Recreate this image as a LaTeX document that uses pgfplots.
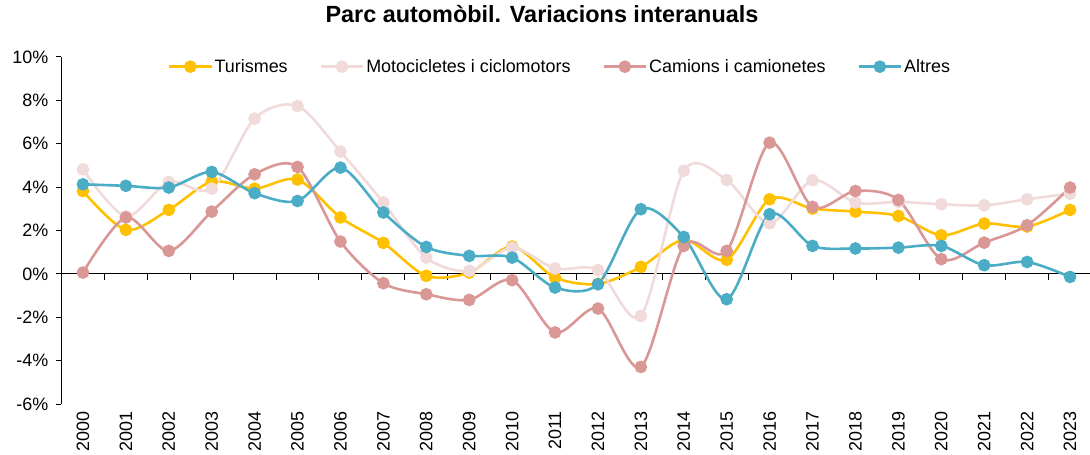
\documentclass[border=0pt]{standalone}
\usepackage{fontspec}
\setmainfont{Liberation Sans}
\usepackage{pgfplots}
\pgfplotsset{compat=1.18}
\definecolor{tur}{HTML}{FFC000}
\definecolor{moto}{HTML}{F0DADA}
\definecolor{cam}{HTML}{D99795}
\definecolor{alt}{HTML}{4BACC6}
\begin{document}
\begin{tikzpicture}[font=\fontsize{18}{21}\selectfont]
\useasboundingbox (-61.5bp,-51bp) rectangle (1028.5bp,404bp);
\begin{axis}[
  scale only axis, width=1030bp, height=347bp,
  xmin=-0.5, xmax=23.5, ymin=-6, ymax=10,
  clip=false,
  axis y line*=left, axis x line*=bottom,
  x axis line style={draw=none},
  y axis line style={line width=1bp, -},
  xtick={0,1,...,23},
  xticklabels={2000,2001,2002,2003,2004,2005,2006,2007,2008,2009,2010,2011,2012,2013,2014,2015,2016,2017,2018,2019,2020,2021,2022,2023},
  x tick label style={rotate=90, anchor=east, inner sep=2bp},
  xtick style={draw=none},
  ytick={-6,-4,...,10},
  yticklabels={-6\%,-4\%,-2\%,0\%,2\%,4\%,6\%,8\%,10\%},
  y tick label style={inner sep=2bp, xshift=-6bp},
  tick align=outside, major tick length=5bp,
  ytick style={line width=1bp, black},
  title={\bfseries\fontsize{23.5}{27}\selectfont Parc automòbil. Variacions interanuals},
  title style={at={(0.4665,1)}, anchor=center, yshift=37bp},
  legend style={at={(0.484,1.005)}, anchor=north, draw=none, fill=none,
    legend columns=4, font=\fontsize{18}{21}\selectfont,
    /tikz/every even column/.append style={column sep=30bp}},
  legend image code/.code={\draw[mark repeat=2,mark phase=2] plot coordinates {(0bp,0bp)(21bp,0bp)(42bp,0bp)};},
  every axis plot/.append style={line width=2.6bp, smooth, tension=0.5, mark=*, mark size=5bp, mark options={solid, line width=0bp}},
]
\draw[black, line width=1bp] (axis cs:-0.5,0) -- (axis cs:23.5,0);
\pgfplotsinvokeforeach{0.5,1.5,...,23.5}{\draw[black, line width=1bp] (axis cs:#1,0) -- ([yshift=-6bp]axis cs:#1,0);}
\addplot[color=tur, mark options={fill=tur, draw=tur}] coordinates {
(0,3.82)(1,2.03)(2,2.95)(3,4.25)(4,3.93)(5,4.35)(6,2.6)(7,1.43)(8,-0.09)(9,0.06)(10,1.26)(11,-0.17)(12,-0.46)(13,0.32)(14,1.57)(15,0.65)(16,3.44)(17,3.01)(18,2.87)(19,2.67)(20,1.78)(21,2.32)(22,2.18)(23,2.95)};
\addlegendentry{Turismes}
\addplot[color=moto, mark options={fill=moto, draw=moto}] coordinates {
(0,4.82)(1,2.65)(2,4.24)(3,3.93)(4,7.16)(5,7.74)(6,5.64)(7,3.29)(8,0.75)(9,0.14)(10,1.21)(11,0.25)(12,0.18)(13,-1.94)(14,4.75)(15,4.33)(16,2.33)(17,4.32)(18,3.29)(19,3.32)(20,3.21)(21,3.16)(22,3.44)(23,3.7)};
\addlegendentry{Motocicletes i ciclomotors}
\addplot[color=cam, mark options={fill=cam, draw=cam}] coordinates {
(0,0.06)(1,2.6)(2,1.06)(3,2.87)(4,4.59)(5,4.93)(6,1.49)(7,-0.43)(8,-0.94)(9,-1.2)(10,-0.29)(11,-2.7)(12,-1.6)(13,-4.29)(14,1.29)(15,1.06)(16,6.05)(17,3.09)(18,3.82)(19,3.41)(20,0.68)(21,1.44)(22,2.24)(23,3.98)};
\addlegendentry{Camions i camionetes}
\addplot[color=alt, mark options={fill=alt, draw=alt}] coordinates {
(0,4.13)(1,4.06)(2,3.98)(3,4.70)(4,3.72)(5,3.36)(6,4.9)(7,2.83)(8,1.24)(9,0.83)(10,0.75)(11,-0.63)(12,-0.48)(13,2.98)(14,1.7)(15,-1.17)(16,2.75)(17,1.29)(18,1.17)(19,1.21)(20,1.29)(21,0.4)(22,0.55)(23,-0.14)};
\addlegendentry{Altres}
\end{axis}
\end{tikzpicture}
\end{document}
